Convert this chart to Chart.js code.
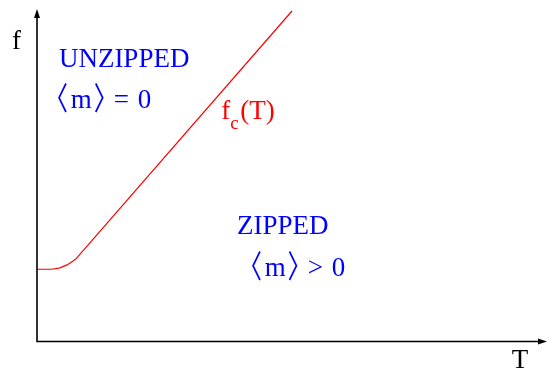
<!DOCTYPE html>
<html>
<head>
<meta charset="utf-8">
<script src="https://cdn.jsdelivr.net/npm/chart.js@4.4.0/dist/chart.umd.min.js"></script>
<style>
  body { margin: 0; background: #fff; }
  canvas { display: block; }
</style>
</head>
<body>
<canvas id="phaseChart" width="550" height="370"></canvas>
<script>
// critical force line f_c(T), axes run 0..100 in both directions
const tValues = [0, 2.9, 4.5, 5.9, 7.1, 7.7, 50.1];
const fcValues = [21.8, 21.8, 22.2, 23.1, 24.3, 25.0, 99.7];

// region labels: [text, T, f]
const regionLabels = [
    ['UNZIPPED', 4.3, 82.9],
    ['ZIPPED', 39.5, 32.4]
];
// order parameter labels: [relation, T, f]
const orderLabels = [
    ['=', 4.1, 70.4],
    ['>', 42.2, 19.8]
];
const curveLabel = ['f', 'c', '(T)', 36.2, 67.0];
const axisNames = ['T', 'f'];

const serif = '"Liberation Serif", "Times New Roman", serif';

// place text so that its ink starts at x, returns where the ink ends
function inkText(c, txt, x, y) {
    const m = c.measureText(txt);
    c.fillText(txt, x + m.actualBoundingBoxLeft, y);
    return x + m.actualBoundingBoxLeft + m.actualBoundingBoxRight;
}

// thin tall angle bracket squeezed into a w x h box, bottom at y + 5
function bracket(c, ch, x, y, w, h) {
    c.save();
    c.font = '40px "Noto Sans CJK SC", sans-serif';
    const m = c.measureText(ch);
    const iw = m.actualBoundingBoxLeft + m.actualBoundingBoxRight;
    const ih = m.actualBoundingBoxAscent + m.actualBoundingBoxDescent;
    c.translate(x, y + 5);
    c.scale(w / iw, h / ih);
    c.fillText(ch, m.actualBoundingBoxLeft, -m.actualBoundingBoxDescent);
    c.restore();
    return x + w;
}

const overlay = {
    id: 'overlay',
    afterDraw(chart) {
        const c = chart.ctx;
        const a = chart.chartArea;
        const xs = chart.scales.x, ys = chart.scales.y;
        c.save();
        c.strokeStyle = '#000';
        c.fillStyle = '#000';
        c.lineWidth = 1.6;
        c.beginPath();
        c.moveTo(a.left, a.top + 4);
        c.lineTo(a.left, a.bottom);
        c.lineTo(a.right - 4, a.bottom);
        c.stroke();
        c.beginPath();
        c.moveTo(a.left, a.top - 1);
        c.lineTo(a.left - 3, a.top + 8);
        c.lineTo(a.left + 3, a.top + 8);
        c.closePath();
        c.fill();
        c.beginPath();
        c.moveTo(a.right + 1, a.bottom);
        c.lineTo(a.right - 8, a.bottom - 3);
        c.lineTo(a.right - 8, a.bottom + 3);
        c.closePath();
        c.fill();

        c.textBaseline = 'alphabetic';
        c.font = '27px ' + serif;
        c.textAlign = 'center';
        c.fillText(axisNames[0], xs.getPixelForValue(94.9), a.bottom + 26.5);
        c.textAlign = 'left';
        inkText(c, axisNames[1], 12, ys.getPixelForValue(88.1));

        c.fillStyle = '#0000ff';
        regionLabels.forEach(([txt, t, f]) => {
            c.font = '27px ' + serif;
            inkText(c, txt, xs.getPixelForValue(t), ys.getPixelForValue(f));
        });
        orderLabels.forEach(([rel, t, f]) => {
            let x = xs.getPixelForValue(t);
            const y = ys.getPixelForValue(f);
            c.font = '27px ' + serif;
            x = bracket(c, '\u3008', x, y, 9, 30);
            x = inkText(c, 'm', x + 4, y);
            x = bracket(c, '\u3009', x + 3, y, 9, 30);
            x = inkText(c, rel, x + 11, y);
            inkText(c, '0', x + 11, y);
        });

        c.fillStyle = '#ff0000';
        let x = xs.getPixelForValue(curveLabel[3]);
        const y = ys.getPixelForValue(curveLabel[4]);
        c.font = '27px ' + serif;
        x = inkText(c, curveLabel[0], x, y);
        c.font = '19px ' + serif;
        x = inkText(c, curveLabel[1], x, y + 10);
        c.font = '27px ' + serif;
        inkText(c, curveLabel[2], x + 3, y);
        c.restore();
    }
};

new Chart(document.getElementById('phaseChart'), {
    type: 'scatter',
    data: {
        datasets: [{
            data: tValues.map((t, i) => ({ x: t, y: fcValues[i] })),
            showLine: true,
            borderColor: '#ff0000',
            borderWidth: 1.2,
            pointRadius: 0,
            tension: 0
        }]
    },
    options: {
        responsive: false,
        animation: false,
        layout: { padding: { left: 37, right: 4, top: 10, bottom: 28.5 } },
        scales: {
            x: { type: 'linear', min: 0, max: 100, display: false },
            y: { type: 'linear', min: 0, max: 100, display: false }
        },
        plugins: { legend: { display: false }, tooltip: { enabled: false } }
    },
    plugins: [overlay]
});
</script>
</body>
</html>
